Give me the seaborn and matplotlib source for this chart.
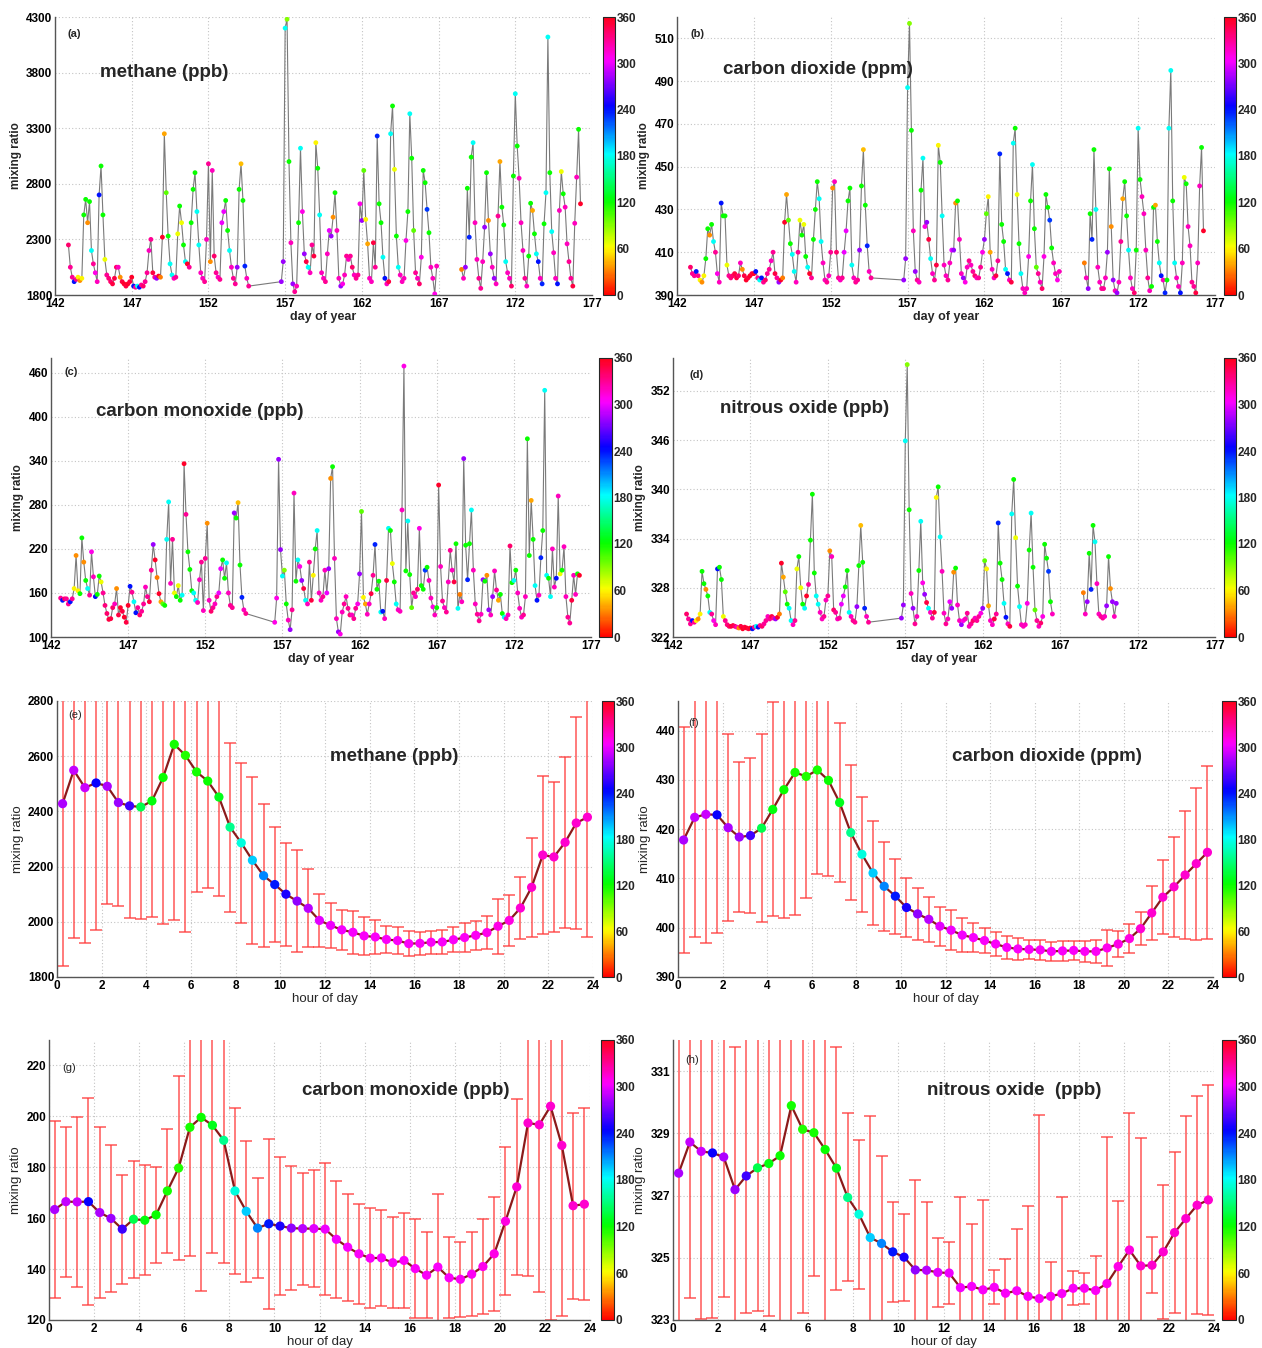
import numpy as np
import pandas as pd
import matplotlib
matplotlib.use("Agg")
import matplotlib.pyplot as plt
import seaborn as sns
from matplotlib.colors import Normalize
from matplotlib.cm import ScalarMappable
from matplotlib.ticker import MultipleLocator

N = None
# sampling: 3-hourly values for each day of year
HOURS = [0, 3, 6, 9, 12, 15, 18, 21]
DAYS = list(range(142, 177))

ch4 = [
    N, N, N, N, N, N, N, 2250,                         # 142
    2050, 1960, 1920, 1940, 1960, 1930, 1950, 2520,    # 143
    2660, 2450, 2640, 2200, 2080, 2000, 1920, 2700,    # 144
    2960, 2520, 2120, 1980, 1950, 1920, 1900, 1950,    # 145
    2050, 2050, 1960, 1920, 1900, 1880, 1900, 1920,    # 146
    1960, 1880, 1870, 1880, 1870, 1890, 1880, 1920,    # 147
    2000, 2200, 2300, 2000, 1960, 1950, 1970, 1960,    # 148
    2320, 3250, 2720, 2330, 2080, 1980, 1950, 1960,    # 149
    2350, 2600, 2450, 2250, 2100, 2080, 2050, 2450,    # 150
    2750, 2900, 2550, 2250, 2000, 1950, 1920, 2300,    # 151
    2980, 2100, 2920, 2150, 2000, 1960, 1940, 2450,    # 152
    2550, 2650, 2380, 2200, 2050, 1950, 1900, 2050,    # 153
    2750, 2980, 2650, 2060, 1950, 1880, N, N,          # 154
    N, N, N, N, N, N, N, N,                            # 155
    N, N, N, N, N, N, 1920, 2100,                      # 156
    4200, 4280, 3000, 2270, 1900, 1830, 1880, 2450,    # 157
    3120, 2550, 2170, 2100, 2050, 2000, 2250, 2150,    # 158
    3170, 2940, 2520, 2000, 1950, 1920, 2170, 2380,    # 159
    2330, 2500, 2720, 2380, 1950, 1880, 1900, 1980,    # 160
    2150, 2120, 2150, 2050, 1980, 1950, 1980, 2620,    # 161
    2470, 2920, 2480, 2260, 1950, 1920, 2270, 2050,    # 162
    3230, 2620, 2450, 2140, 1950, 1900, 1920, 3250,    # 163
    3500, 2930, 2330, 2050, 1980, 1920, 1950, 2290,    # 164
    2550, 3430, 3030, 2380, 2000, 1950, 1900, 2140,    # 165
    2920, 2810, 2570, 2360, 2050, 1950, 1810, 2060,    # 166
    N, N, N, N, N, N, N, N,                            # 167
    N, N, N, N, 2030, 1950, 2050, 2760,                # 168
    2320, 3040, 3170, 2450, 2120, 1950, 1860, 2100,    # 169
    2410, 2900, 2470, 2170, 2050, 1950, 1900, 2510,    # 170
    3000, 2590, 2430, 2100, 2000, 1950, 1880, 2870,    # 171
    3610, 3140, 2850, 2450, 2200, 1950, 1880, 2150,    # 172
    2625, 2560, 2350, 2170, 2100, 1950, 1900, 2440,    # 173
    2720, 4120, 2900, 2370, 2180, 1950, 1900, 2560,    # 174
    2910, 2710, 2590, 2260, 2100, 1950, 1880, 2445,    # 175
    2860, 3290, 2620, N, N, N, N, N,                   # 176
]

co2 = [
    N, N, N, N, N, N, N, 403,
    400, 399, 401, 399, 397, 396, 399, 407,
    421, 418, 423, 415, 410, 400, 396, 433,
    427, 427, 404, 399, 398, 399, 400, 398,
    399, 405, 402, 399, 397, 398, 399, 400,
    400, 401, 398, 397, 398, 396, 397, 400,
    402, 406, 410, 400, 398, 396, 397, 398,
    424, 437, 425, 414, 409, 401, 396, 410,
    425, 418, 423, 408, 403, 400, 398, 416,
    430, 443, 435, 415, 405, 397, 396, 399,
    410, 440, 443, 410, 398, 397, 398, 410,
    420, 434, 440, 404, 398, 396, 397, 411,
    441, 458, 432, 413, 401, 398, N, N,
    N, N, N, N, N, N, N, N,
    N, N, N, N, N, N, 397, 407,
    487, 517, 467, 420, 401, 397, 396, 439,
    454, 422, 424, 416, 407, 400, 397, 404,
    460, 452, 427, 404, 399, 397, 405, 411,
    411, 433, 434, 416, 400, 398, 396, 403,
    406, 404, 401, 399, 398, 398, 403, 410,
    416, 428, 436, 410, 402, 398, 399, 406,
    456, 423, 415, 402, 400, 397, 396, 461,
    468, 437, 414, 400, 393, 391, 393, 408,
    434, 451, 421, 403, 400, 396, 393, 408,
    437, 431, 425, 412, 405, 400, 397, 401,
    N, N, N, N, N, N, N, N,
    N, N, N, N, 405, 398, 393, 428,
    416, 458, 430, 403, 396, 393, 393, 398,
    410, 449, 422, 397, 392, 391, 396, 415,
    435, 443, 427, 411, 398, 393, 391, 411,
    468, 444, 436, 428, 411, 398, 392, 394,
    431, 432, 415, 405, 399, 397, 391, 397,
    468, 495, 434, 405, 398, 394, 391, 405,
    445, 442, 422, 413, 396, 394, 391, 405,
    441, 459, 420, N, N, N, N, N,
]

co = [
    N, N, N, N, N, 153, 150, 152,
    152, 145, 148, 152, 166, 211, 163, 159,
    235, 202, 177, 166, 157, 216, 182, 155,
    158, 183, 175, 160, 143, 132, 124, 125,
    140, 145, 166, 130, 140, 135, 127, 120,
    143, 169, 161, 148, 133, 140, 130, 135,
    145, 168, 155, 148, 191, 226, 205, 181,
    159, 148, 145, 143, 233, 284, 173, 233,
    160, 155, 170, 150, 157, 336, 267, 216,
    192, 163, 160, 150, 147, 178, 202, 136,
    207, 255, 150, 135, 140, 145, 155, 160,
    193, 205, 180, 201, 160, 143, 140, 269,
    262, 283, 198, 154, 137, 132, N, N,
    N, N, N, N, N, N, N, N,
    N, N, N, N, 120, 153, 342, 219,
    183, 191, 145, 123, 110, 137, 296, 176,
    205, 196, 177, 166, 150, 145, 202, 150,
    184, 220, 245, 160, 150, 155, 191, 160,
    193, 316, 332, 207, 125, 107, 104, 134,
    145, 155, 139, 130, 130, 125, 139, 145,
    186, 271, 154, 145, 131, 145, 159, 184,
    226, 165, 176, 134, 135, 125, 177, 248,
    245, 200, 175, 145, 137, 135, 273, 469,
    190, 258, 185, 140, 160, 155, 165, 248,
    170, 165, 191, 195, 177, 153, 141, 130,
    140, 307, 196, 149, 140, 134, 175, 218,
    191, 175, 227, 139, 158, 148, 343, 225,
    178, 227, 273, 191, 145, 131, 122, 131,
    178, 176, 184, 137, 130, 155, 190, 164,
    150, 158, 132, 127, 125, 130, 224, 174,
    177, 191, 160, 139, 127, 130, 155, 370,
    211, 286, 233, 170, 150, 157, 208, 245,
    436, 184, 180, 155, 220, 168, 180, 292,
    186, 191, 223, 155, 127, 119, 150, 184,
    158, 186, 184, N, N, N, N, N,
]

n2o = [
    N, N, N, N, N, N, N, 324.8,
    324.2, 323.6, 324.0, 323.8, 324.0, 324.2, 324.8, 330.0,
    328.5, 327.8, 327.0, 325.0, 324.8, 324.0, 323.5, 330.3,
    330.5, 329.0, 324.5, 324.0, 323.5, 323.3, 323.3, 323.4,
    323.3, 323.2, 323.1, 323.3, 323.0, 323.2, 323.1, 323.0,
    323.1, 323.0, 323.2, 323.3, 323.2, 323.4, 323.3, 323.6,
    324.0, 324.5, 324.2, 324.5, 324.3, 324.2, 324.4, 324.8,
    331.0, 329.3, 327.5, 326.0, 325.5, 324.0, 323.5, 324.0,
    330.3, 331.8, 328.0, 326.0, 325.5, 327.0, 328.4, 333.8,
    339.4, 329.8, 327.0, 326.0, 325.0, 324.2, 324.5, 326.5,
    327.0, 332.5, 331.8, 325.3, 325.0, 324.2, 324.3, 326.0,
    327.0, 328.1, 330.1, 325.0, 324.5, 324.0, 323.8, 325.7,
    330.7, 335.6, 331.1, 325.5, 324.5, 323.8, N, N,
    N, N, N, N, N, N, N, N,
    N, N, N, N, N, N, 324.3, 325.9,
    345.9, 355.2, 337.5, 327.3, 325.5, 323.6, 324.5, 330.1,
    336.1, 328.6, 327.2, 326.2, 325.5, 325.0, 324.3, 325.0,
    339.0, 340.3, 334.2, 330.0, 324.9, 323.6, 324.2, 326.3,
    325.5, 329.9, 330.4, 325.9, 324.0, 323.5, 324.0, 324.2,
    324.9, 323.3, 323.6, 324.0, 324.3, 324.0, 324.5, 324.9,
    325.5, 331.3, 330.3, 325.8, 324.0, 323.5, 324.2, 324.8,
    335.9, 331.0, 329.0, 326.1, 324.4, 323.6, 323.3, 337.0,
    341.2, 334.1, 328.2, 325.7, 323.5, 323.3, 323.5, 326.1,
    332.6, 337.1, 330.5, 325.3, 324.0, 323.3, 323.7, 324.5,
    333.3, 331.6, 330.0, 326.3, 324.8, N, N, N,
    N, N, N, N, N, N, N, N,
    N, N, N, N, 327.4, 324.8, 326.3, 332.2,
    327.8, 335.6, 333.6, 328.5, 324.8, 324.5, 324.3, 324.5,
    325.8, 331.8, 327.9, 326.3, 324.5, 326.1, N, N,
    N, N, N, N, N, N, N, N,
    N, N, N, N, N, N, N, N,
    N, N, N, N, N, N, N, N,
    N, N, N, N, N, N, N, N,
    N, N, N, N, N, N, N, N,
    N, N, N, N, N, N, N, N,
]

# wind direction (degrees) at the same times
wdir = [
    N, N, N, N, N, 330, 240, 340,
    330, 330, 240, 330, 60, 35, 60, 120,
    120, 35, 120, 180, 330, 310, 320, 240,
    120, 120, 65, 330, 335, 340, 350, 350,
    340, 320, 35, 350, 355, 350, 355, 350,
    355, 240, 330, 180, 240, 330, 340, 330,
    330, 320, 330, 350, 330, 280, 355, 30,
    355, 40, 100, 120, 180, 180, 320, 330,
    65, 120, 65, 120, 180, 355, 330, 120,
    120, 120, 180, 180, 320, 320, 330, 320,
    330, 35, 320, 340, 330, 320, 330, 300,
    300, 120, 120, 180, 320, 330, 330, 280,
    120, 45, 120, 235, 320, 330, N, N,
    N, N, N, N, N, N, N, N,
    N, N, N, N, 310, 310, 280, 280,
    180, 90, 120, 320, 280, 330, 320, 120,
    180, 310, 280, 350, 180, 320, 330, 350,
    60, 120, 180, 320, 320, 330, 320, 300,
    280, 35, 120, 320, 320, 280, 310, 320,
    330, 320, 330, 340, 320, 330, 330, 310,
    280, 100, 60, 40, 320, 320, 350, 330,
    235, 120, 120, 180, 240, 320, 350, 180,
    120, 65, 120, 180, 320, 320, 320, 310,
    120, 180, 120, 100, 330, 320, 340, 310,
    120, 120, 230, 120, 320, 320, 310, 320,
    120, 355, 320, 330, 320, 330, 320, 330,
    320, 350, 120, 180, 30, 320, 280, 120,
    235, 120, 180, 320, 320, 330, 330, 320,
    280, 120, 35, 280, 320, 280, 320, 330,
    40, 120, 120, 180, 320, 320, 340, 120,
    180, 120, 320, 320, 320, 330, 320, 120,
    120, 40, 120, 180, 240, 320, 235, 120,
    180, 180, 120, 180, 320, 320, 240, 320,
    65, 120, 320, 320, 330, 330, 350, 320,
    320, 120, 355, N, N, N, N, N,
]

# diurnal (half-hourly) means, standard deviations and mean wind direction
hour_of_day = [0.25, 0.75, 1.25, 1.75, 2.25, 2.75, 3.25, 3.75, 4.25, 4.75, 5.25, 5.75,
               6.25, 6.75, 7.25, 7.75, 8.25, 8.75, 9.25, 9.75, 10.25, 10.75, 11.25, 11.75,
               12.25, 12.75, 13.25, 13.75, 14.25, 14.75, 15.25, 15.75, 16.25, 16.75, 17.25, 17.75,
               18.25, 18.75, 19.25, 19.75, 20.25, 20.75, 21.25, 21.75, 22.25, 22.75, 23.25, 23.75]
wdir_hod = [285, 290, 292, 245, 285, 280, 258, 140, 125, 120, 118, 115,
            118, 120, 128, 155, 175, 195, 212, 238, 250, 278, 288, 298,
            300, 302, 303, 305, 305, 305, 305, 305, 305, 305, 305, 305,
            306, 306, 308, 310, 312, 314, 316, 316, 316, 316, 316, 316]
ch4_hod = [2428, 2549, 2486, 2503, 2491, 2432, 2420, 2416, 2438, 2523, 2643, 2603,
           2543, 2510, 2452, 2343, 2286, 2223, 2167, 2135, 2100, 2075, 2049, 2005,
           1987, 1971, 1962, 1949, 1945, 1936, 1932, 1921, 1922, 1926, 1927, 1935,
           1943, 1951, 1961, 1984, 2005, 2050, 2125, 2242, 2235, 2288, 2358, 2379]
ch4_hod_sd = [588, 606, 562, 534, 428, 375, 407, 406, 422, 530, 636, 640,
              434, 389, 359, 306, 290, 303, 260, 210, 187, 185, 142, 96,
              82, 73, 78, 70, 61, 50, 50, 44, 42, 41, 42, 46,
              51, 52, 60, 100, 92, 112, 180, 287, 272, 310, 383, 434]
co2_hod = [417.8, 422.4, 423.0, 422.9, 420.3, 418.4, 418.7, 420.2, 424.0, 428.0, 431.5, 430.7,
           432.0, 429.9, 425.4, 419.3, 414.9, 411.1, 408.4, 406.4, 404.1, 402.8, 401.7, 400.3,
           399.5, 398.5, 398.0, 397.4, 396.7, 396.0, 395.7, 395.6, 395.5, 395.2, 395.3, 395.4,
           395.2, 395.2, 395.9, 396.7, 397.8, 399.8, 403.0, 406.2, 408.3, 410.7, 413.0, 415.3]
co2_hod_sd = [23.0, 24.3, 26.2, 24.0, 19.0, 15.3, 15.8, 19.1, 21.7, 26.1, 29.0, 24.7,
              21.1, 19.5, 16.2, 13.7, 11.7, 10.5, 9.0, 7.6, 5.9, 5.2, 4.5, 4.0,
              4.1, 3.5, 2.9, 2.6, 2.5, 2.4, 2.2, 2.0, 2.0, 2.0, 2.0, 1.9,
              2.1, 2.4, 3.6, 2.6, 2.9, 3.3, 5.4, 7.5, 10.2, 12.9, 15.4, 17.6]
co_hod = [163.4, 166.5, 166.4, 166.5, 162.2, 159.9, 155.7, 159.6, 159.2, 161.3, 170.7, 179.7,
          195.7, 199.6, 196.5, 190.6, 170.7, 162.7, 156.1, 157.8, 156.9, 156.1, 155.9, 155.9,
          155.7, 151.7, 148.6, 146.0, 144.3, 144.4, 142.5, 143.4, 140.2, 137.6, 140.8, 136.6,
          136.0, 138.0, 141.0, 146.0, 158.8, 172.3, 197.4, 196.7, 204.0, 188.6, 164.9, 165.5]
co_hod_sd = [34.7, 29.5, 33.4, 40.8, 33.7, 29.0, 21.4, 23.0, 21.7, 18.9, 24.5, 36.2,
             50.6, 68.4, 50.1, 48.1, 32.5, 27.8, 19.7, 33.5, 27.0, 24.5, 22.0, 23.1,
             25.9, 23.0, 21.0, 19.6, 19.7, 18.8, 17.8, 18.6, 19.4, 17.0, 28.6, 15.9,
             14.7, 16.4, 18.6, 22.5, 29.0, 34.6, 60.3, 65.8, 84.0, 66.9, 36.5, 37.7]
n2o_hod = [327.72, 328.72, 328.42, 328.37, 328.24, 327.19, 327.63, 327.89, 328.03, 328.28, 329.89, 329.13,
           329.02, 328.48, 327.88, 326.94, 326.40, 325.65, 325.46, 325.19, 325.02, 324.61, 324.60, 324.53,
           324.51, 324.04, 324.08, 323.97, 324.05, 323.86, 323.94, 323.76, 323.69, 323.76, 323.85, 324.02,
           324.02, 323.95, 324.17, 324.72, 325.25, 324.74, 324.76, 325.19, 325.81, 326.26, 326.69, 326.86]
n2o_hod_sd = [5.0, 5.0, 5.4, 5.3, 4.5, 4.6, 4.4, 4.6, 4.9, 6.0, 7.0, 5.9,
              4.6, 5.5, 3.9, 2.7, 2.4, 3.9, 2.8, 1.6, 1.4, 2.9, 2.2, 1.1,
              1.0, 2.9, 2.0, 2.9, 0.55, 1.1, 2.0, 2.9, 5.9, 1.1, 3.1, 0.54,
              0.5, 1.1, 4.7, 2.1, 4.4, 4.1, 0.9, 2.15, 2.6, 3.3, 3.5, 3.7]

# ---------------------------------------------------------------------------
sns.set_style("white")
plt.rcParams["font.family"] = ["Liberation Sans", "DejaVu Sans"]

W, H = 1262, 1348
fig = plt.figure(figsize=(W / 100, H / 100), dpi=100)


def rect(l, t, r, b):
    return [l / W, 1 - b / H, (r - l) / W, (b - t) / H]


def arr(v):
    return np.array([np.nan if x is None else x for x in v], dtype=float)


times = np.array([d + h / 24.0 for d in DAYS for h in HOURS])
norm = Normalize(0, 360)


def style_axes(ax, xt, yt, xminor, yminor, xlim, ylim):
    ax.set_xlim(*xlim)
    ax.set_ylim(*ylim)
    ax.set_xticks(xt)
    ax.set_xticklabels([str(v) for v in xt], fontweight="bold", fontsize=8.5)
    ax.set_yticks(yt)
    ax.set_yticklabels([str(v) for v in yt], fontweight="bold", fontsize=8.5)
    ax.xaxis.set_minor_locator(MultipleLocator(xminor))
    ax.yaxis.set_minor_locator(MultipleLocator(yminor))
    ax.grid(True, which="major", ls=(0, (1, 2)), color="#c4c4c4", lw=0.8)
    for s in ["top", "right"]:
        ax.spines[s].set_visible(False)
    for s in ["left", "bottom"]:
        ax.spines[s].set_color("#555555")
        ax.spines[s].set_linewidth(1.0)
    ax.tick_params(which="major", direction="in", length=3, width=0.8, pad=2, colors="black")
    ax.tick_params(which="minor", direction="in", length=2, width=0.6)
    ax.set_facecolor("white")


def add_cbar(cbr):
    cax = fig.add_axes(rect(*cbr))
    cb = fig.colorbar(ScalarMappable(norm=norm, cmap="hsv"), cax=cax, ticks=list(range(0, 361, 60)))
    cb.ax.tick_params(length=0, pad=1)
    cb.ax.set_yticklabels([str(v) for v in range(0, 361, 60)], fontweight="bold", fontsize=8.5)
    cb.outline.set_linewidth(0.8)


def ts_panel(r, cbr, vals, breaks, yt, yminor, ylim, title, tpos, letter, lpos):
    ax = fig.add_axes(rect(*r))
    df = pd.DataFrame({"day": times, "val": arr(vals), "dir": arr(wdir)}).dropna()
    edges = [-np.inf] + breaks + [np.inf]
    for lo, hi in zip(edges[:-1], edges[1:]):
        seg = df[(df["day"] > lo) & (df["day"] < hi)]
        if len(seg):
            sns.lineplot(data=seg, x="day", y="val", estimator=None, sort=False,
                         color="#7a7a7a", lw=0.8, ax=ax, zorder=2)
    sns.scatterplot(data=df, x="day", y="val", hue="dir", palette="hsv", hue_norm=(0, 360),
                    s=12, linewidth=0, legend=False, ax=ax, zorder=3)
    style_axes(ax, list(range(142, 178, 5)), yt, 1, yminor, (142, 177), ylim)
    ax.set_xlabel("day of year", fontsize=9, fontweight="bold", labelpad=1)
    ax.set_ylabel("mixing ratio", fontsize=8.5, fontweight="bold", labelpad=3)
    ax.text(tpos[0], tpos[1], title, transform=ax.transAxes, fontsize=13.5,
            fontweight="bold", ha="left", va="center")
    ax.text(lpos[0], lpos[1], letter, transform=ax.transAxes, fontsize=8,
            fontweight="bold", ha="center", va="center")
    add_cbar(cbr)


def hod_panel(r, cbr, vals, sd, yt, yminor, ylim, title, tpos, letter, lpos):
    ax = fig.add_axes(rect(*r))
    df = pd.DataFrame({"hour": hour_of_day, "val": vals, "sd": sd, "dir": wdir_hod})
    ax.errorbar(df["hour"], df["val"], yerr=df["sd"], fmt="none", ecolor="#ff3a3a",
                elinewidth=1.1, capsize=4.5, capthick=1.1, alpha=0.85, zorder=1)
    sns.lineplot(data=df, x="hour", y="val", estimator=None, sort=False,
                 color="#8b1a1a", lw=1.6, ax=ax, zorder=2)
    sns.scatterplot(data=df, x="hour", y="val", hue="dir", palette="hsv", hue_norm=(0, 360),
                    s=44, linewidth=0, legend=False, ax=ax, zorder=3)
    style_axes(ax, list(range(0, 25, 2)), yt, 1, yminor, (0, 24), ylim)
    ax.set_xlabel("hour of day", fontsize=9.5, labelpad=1)
    ax.set_ylabel("mixing ratio", fontsize=9.5, labelpad=3)
    ax.text(tpos[0], tpos[1], title, transform=ax.transAxes, fontsize=13.5,
            fontweight="bold", ha="center", va="center")
    ax.text(lpos[0], lpos[1], letter, transform=ax.transAxes, fontsize=8,
            ha="center", va="center")
    add_cbar(cbr)


ts_panel((55, 17, 592, 295), (603, 17, 615, 295), ch4, [167.5],
         list(range(1800, 4301, 500)), 100, (1800, 4300),
         "methane (ppb)", (0.084, 0.80), "(a)", (0.035, 0.94))
ts_panel((677, 17, 1215, 295), (1224, 17, 1236, 295), co2, [167.5],
         list(range(390, 511, 20)), 5, (390, 520),
         "carbon dioxide (ppm)", (0.085, 0.81), "(b)", (0.039, 0.94))
ts_panel((51, 358, 591, 637), (599, 358, 612, 637), co, [],
         list(range(100, 461, 60)), 20, (100, 480),
         "carbon monoxide (ppb)", (0.083, 0.81), "(c)", (0.037, 0.95))
ts_panel((673, 358, 1215, 637), (1224, 358, 1236, 637), n2o, [167.5],
         list(range(322, 353, 6)), 2, (322, 356),
         "nitrous oxide (ppb)", (0.087, 0.82), "(d)", (0.044, 0.94))

hod_panel((57, 701, 593, 977), (602, 701, 614, 977), ch4_hod, ch4_hod_sd,
          list(range(1800, 2801, 200)), 50, (1800, 2800),
          "methane (ppb)", (0.63, 0.80), "(e)", (0.034, 0.95))
hod_panel((678, 701, 1213, 977), (1222, 701, 1236, 977), co2_hod, co2_hod_sd,
          list(range(390, 441, 10)), 2, (390, 446),
          "carbon dioxide (ppm)", (0.69, 0.80), "(f)", (0.03, 0.92))
hod_panel((49, 1040, 590, 1320), (601, 1040, 614, 1320), co_hod, co_hod_sd,
          list(range(120, 221, 20)), 5, (120, 230),
          "carbon monoxide (ppb)", (0.66, 0.82), "(g)", (0.037, 0.90))
hod_panel((673, 1040, 1214, 1320), (1222, 1040, 1236, 1320), n2o_hod, n2o_hod_sd,
          list(range(323, 332, 2)), 0.5, (323, 332),
          "nitrous oxide  (ppb)", (0.63, 0.82), "(h)", (0.035, 0.93))

fig.savefig("out.png", dpi=100, facecolor="white")
